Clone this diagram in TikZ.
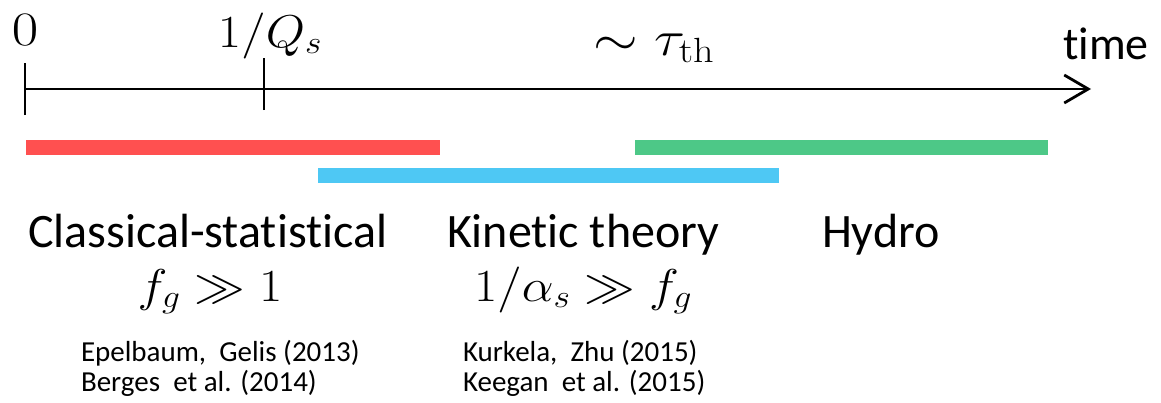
\documentclass[tikz,border=0pt]{standalone}
\usepackage{fix-cm}
\usepackage{amsmath,amssymb}
\usepackage[no-math]{fontspec}
\setmainfont{Carlito}[Ligatures=NoCommon]
\usepackage{graphicx}
\usetikzlibrary{arrows.meta,positioning}
\usepackage{xcolor}
\definecolor{barred}{HTML}{FF5050}
\definecolor{bargreen}{HTML}{4DC887}
\definecolor{barblue}{HTML}{4EC8F4}
\newcommand{\widemath}[2][1.1]{\scalebox{#1}[1]{#2}}

\begin{document}
\begin{tikzpicture}[
  x=1pt, y=-1pt,
  every node/.style={inner sep=0pt, outer sep=0pt},
  axis/.style={line width=2.8pt, -{Straight Barb[length=24pt, width=28pt, line width=2.8pt]}},
  tick/.style={line width=2.8pt},
  thintick/.style={line width=1.3pt},
  toplbl/.style={anchor=base, font=\fontsize{46}{50}\selectfont},
  head/.style={anchor=base west, font=\fontsize{48}{54}\selectfont},
  cond/.style={anchor=base, font=\fontsize{46}{50}\selectfont},
  ref/.style={anchor=base west, font=\fontsize{29}{34}\selectfont},
]
  \useasboundingbox (0,0) rectangle (1161,402);

  % Time axis
  \coordinate (start) at (25,89);
  \coordinate (end) at (1091,89);
  \coordinate (qs) at (264,89);
  \draw[axis] (start) -- (end);
  \draw[tick] ([yshift=-26pt]start) -- ([yshift=26pt]start);
  \draw[thintick] ([yshift=-21pt]qs) -- ([yshift=31pt]qs);

  % Axis labels
  \node[toplbl, font=\fontsize{48}{52}\selectfont] (zero) at (25,45) {\widemath[1.2]{$0$}};
  \node[toplbl] (qslbl) at (270,47) {\widemath{$1/Q_s$}};
  \node[toplbl, font=\fontsize{50}{54}\selectfont] (tau) at (654,55) {\widemath[1.15]{$\sim\tau_{\mathrm{th}}$}};
  \node[anchor=base, font=\fontsize{46}{50}\selectfont] (time) at (1106,59) {time};

  % Bars
  \fill[barred] (26,140) rectangle (440,155);
  \fill[bargreen] (635,140) rectangle (1048,155);
  \fill[barblue] (318,168) rectangle (779,183);

  % Regimes
  \node[head] (cls) at (28,247) {Classical-statistical};
  \node[head] (kin) at (447,247) {Kinetic theory};
  \node[head] (hyd) at (822,247) {Hydro};

  % Conditions
  \node[cond] (clscond) at (210,301) {\widemath{$f_g \gg 1$}};
  \node[cond] (kincond) at (583,301) {\widemath{$1/\alpha_s \gg f_g$}};

  % References
  \node[ref] (epel) at (81,361) {Epelbaum,\ \ Gelis (2013)};
  \node[ref] (berg) at (81,391) {Berges\ \ et al. (2014)};
  \node[ref] (kurk) at (463,361) {Kurkela,\ \ Zhu (2015)};
  \node[ref] (keeg) at (463,391) {Keegan\ \ et al. (2015)};
\end{tikzpicture}
\end{document}
